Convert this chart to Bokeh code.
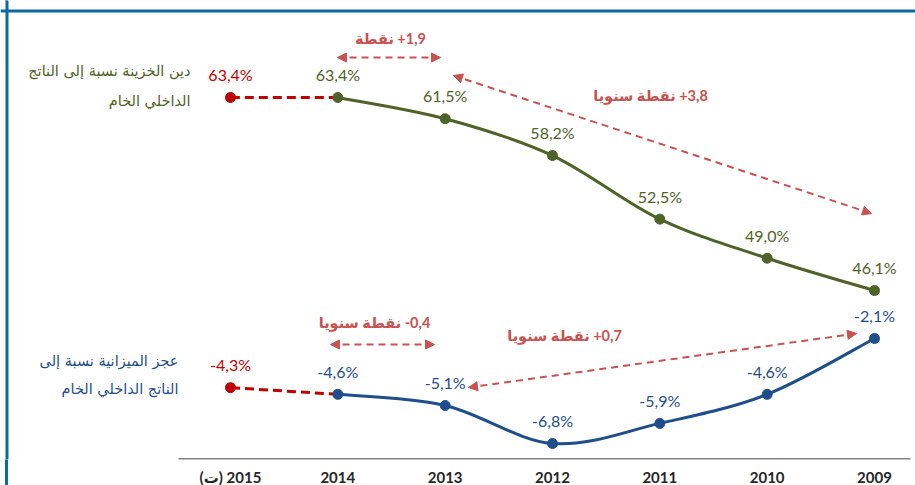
from bokeh.plotting import figure
from bokeh.models import Range1d, FixedTicker, Label, Arrow, NormalHead, Span, ColumnDataSource
from bokeh.core.properties import value
from bokeh.embed import file_html
from bokeh.resources import INLINE

# ---------------- data ----------------
years = ["2009", "2010", "2011", "2012", "2013", "2014", "(ت)\u200e 2015"]
debt = [46.1, 49.0, 52.5, 58.2, 61.5, 63.4, 63.4]
deficit = [-2.1, -4.6, -5.9, -6.8, -5.1, -4.6, -4.3]
debt_title = ["دين الخزينة نسبة إلى الناتج", "الداخلي الخام"]
deficit_title = ["عجز الميزانية نسبة إلى", "الناتج الداخلي الخام"]
notes = ["نقطة\u200e +1,9", "نقطة سنويا\u200e +3,8", "نقطة سنويا\u200e -0,4", "نقطة سنويا\u200e +0,7"]

OLIVE = "#4f6228"
BLUE = "#1f4e8c"
RED = "#c00000"
PINK = "#c9514f"
FRAME_BLUE = "#0b6a9e"

# ---------------- layout helpers (page pixels -> data) ----------------
SP = (874 - 230) / 6.0


def xd(px):
    return (874 - px) / SP


def yd(py):
    return 63.4 + (97 - py) / 11.16


def yd2(py):
    return -2.1 + (338 - py) / 22.34


def catmull(xs, ys):
    n = len(xs)
    d = dict(x0=[], y0=[], x1=[], y1=[], cx0=[], cy0=[], cx1=[], cy1=[])
    for i in range(n - 1):
        p0 = (xs[max(i - 1, 0)], ys[max(i - 1, 0)])
        p1 = (xs[i], ys[i])
        p2 = (xs[i + 1], ys[i + 1])
        p3 = (xs[min(i + 2, n - 1)], ys[min(i + 2, n - 1)])
        d["x0"].append(p1[0]); d["y0"].append(p1[1])
        d["x1"].append(p2[0]); d["y1"].append(p2[1])
        d["cx0"].append(p1[0] + (p2[0] - p0[0]) / 6.0)
        d["cy0"].append(p1[1] + (p2[1] - p0[1]) / 6.0)
        d["cx1"].append(p2[0] - (p3[0] - p1[0]) / 6.0)
        d["cy1"].append(p2[1] - (p3[1] - p1[1]) / 6.0)
    return ColumnDataSource(d)


xs = list(range(len(years)))

p = figure(frame_width=915, frame_height=459,
           x_range=Range1d(xd(0), xd(915)), y_range=Range1d(yd(459), yd(0)),
           output_backend="svg", toolbar_location=None, y_axis_location=None,
           min_border=0)
p.extra_y_ranges = {"def": Range1d(yd2(459), yd2(0))}
p.grid.visible = False
p.outline_line_color = None
p.background_fill_color = "white"
p.border_fill_color = None
p.styles = {"box-shadow": f"inset 5px 0 0 0 white, inset 8px 0 0 0 {FRAME_BLUE}",
            "background-color": "white"}

ax = p.xaxis[0]
ax.ticker = FixedTicker(ticks=xs)
ax.major_label_overrides = {i: y for i, y in enumerate(years)}
ax.axis_line_color = None
ax.major_tick_line_color = None
ax.minor_tick_line_color = None
ax.major_tick_out = 0
ax.major_label_standoff = 8
ax.major_label_text_font = "Lato, DejaVu Sans"
ax.major_label_text_font_style = "bold"
ax.major_label_text_font_size = "15px"
ax.major_label_text_color = "#262626"

# frame border (top & left)
p.add_layout(Span(location=yd(10.5), dimension="width", line_color=FRAME_BLUE, line_width=3))
p.add_layout(Span(location=xd(6.5), dimension="height", line_color=FRAME_BLUE, line_width=3))

# baseline
p.segment(x0=[xd(178)], y0=[yd(458.5)], x1=[xd(910)], y1=[yd(458.5)], line_color="#595959", line_width=1.5)

# ---------------- debt series ----------------
p.bezier(x0="x0", y0="y0", x1="x1", y1="y1", cx0="cx0", cy0="cy0", cx1="cx1", cy1="cy1",
         source=catmull(xs[:6], debt[:6]), line_color=OLIVE, line_width=3)
p.line(xs[5:7], debt[5:7], line_color=RED, line_width=3, line_dash="9 5")
p.scatter(xs[:6], debt[:6], size=10, color=OLIVE)
p.scatter(xs[6:], debt[6:], size=10, color=RED)
p.text(xs, debt, text=[f"{v:.1f}".replace(".", ",") + "%" for v in debt],
       text_color=[OLIVE] * 6 + [RED], text_align="center", text_baseline="middle",
       y_offset=-23, text_font=value("Lato"), text_font_size="16px")

# ---------------- deficit series ----------------
p.bezier(x0="x0", y0="y0", x1="x1", y1="y1", cx0="cx0", cy0="cy0", cx1="cx1", cy1="cy1",
         source=catmull(xs[:6], deficit[:6]), line_color=BLUE, line_width=3, y_range_name="def")
p.line(xs[5:7], deficit[5:7], line_color=RED, line_width=3, line_dash="9 5", y_range_name="def")
p.scatter(xs[:6], deficit[:6], size=10, color=BLUE, y_range_name="def")
p.scatter(xs[6:], deficit[6:], size=10, color=RED, y_range_name="def")
p.text(xs, deficit, text=[f"{v:.1f}".replace(".", ",") + "%" for v in deficit],
       text_color=[BLUE] * 6 + [RED], text_align="center", text_baseline="middle",
       y_offset=-23, text_font=value("Lato"), text_font_size="16px", y_range_name="def")

# ---------------- series titles ----------------
for txt, py in zip(debt_title, [70, 100]):
    p.add_layout(Label(x=xd(190), y=yd(py), text=txt, text_align="right", text_baseline="middle",
                       text_color=OLIVE, text_font="DejaVu Sans", text_font_size="14.5px"))
for txt, py in zip(deficit_title, [360, 388]):
    p.add_layout(Label(x=xd(178), y=yd(py), text=txt, text_align="right", text_baseline="middle",
                       text_color=BLUE, text_font="DejaVu Sans", text_font_size="14.5px"))

# ---------------- annotations ----------------
arrows = [((337, 57), (440, 57)), ((453, 75), (871, 213)),
          ((330, 344), (434, 344)), ((468, 387), (856, 333))]
note_pos = [(390, 38), (650, 95), (374, 322), (564, 335)]
for (a, b) in arrows:
    p.add_layout(Arrow(x_start=xd(a[0]), y_start=yd(a[1]), x_end=xd(b[0]), y_end=yd(b[1]),
                       line_color=PINK, line_width=2, line_dash="7 5",
                       start=NormalHead(size=9, fill_color=PINK, line_color=PINK),
                       end=NormalHead(size=9, fill_color=PINK, line_color=PINK)))
for txt, (px, py) in zip(notes, note_pos):
    p.add_layout(Label(x=xd(px), y=yd(py), text=txt, text_align="center", text_baseline="middle",
                       text_color=PINK, text_font="Lato, DejaVu Sans", text_font_style="bold",
                       text_font_size="14.5px"))

open("out.html", "w").write(file_html(p, INLINE))
